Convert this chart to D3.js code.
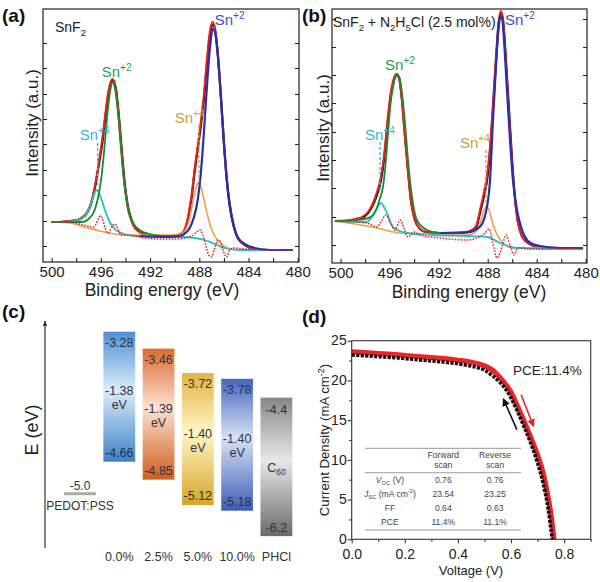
<!DOCTYPE html>
<html><head><meta charset="utf-8">
<script src="https://cdn.jsdelivr.net/npm/d3@7"></script>
<style>
html,body{margin:0;padding:0;background:#fff;}
svg{display:block;font-family:"Liberation Sans",Arial,Helvetica,sans-serif;}
</style></head><body>
<svg id="fig" width="600" height="582"></svg>
<script>
// ================= DATA =================
// XPS axes
const xpsLabelTicks = [500, 496, 492, 488, 484, 480];
const xpsMinorTicks = [498, 494, 490, 486, 482];
const aYTicks = [16, 41, 67, 92, 118, 143, 168, 194, 219];
const bYTicks = [18, 46, 75, 103, 131, 160, 188, 216, 244];

// Panel (a) SnF2 : [binding energy eV, intensity a.u.]
const aRaw = [[500.00,40],[499.35,40],[498.54,41],[497.89,42],[497.40,45],[497.07,50],[496.75,60],[496.50,73],[496.34,84],[496.10,102],[495.85,122],[495.61,147],[495.45,162],[495.28,174],[495.04,182],[494.80,175],[494.55,148],[494.31,113],[494.07,80],[493.82,57],[493.50,42],[493.17,34],[492.68,29],[492.03,27],[491.22,26],[490.41,26],[489.76,27],[489.27,30],[488.94,42],[488.62,65],[488.37,91],[488.13,113],[487.89,135],[487.64,161],[487.40,195],[487.15,225],[486.91,237],[486.75,234],[486.50,209],[486.26,169],[486.02,124],[485.77,84],[485.53,58],[485.20,36],[484.88,24],[484.31,17],[483.50,13],[482.28,12],[480.41,12]];
const aFit = [[500.00,40],[499.35,40],[498.54,41],[497.89,42],[497.40,46],[497.07,51],[496.75,61],[496.50,75],[496.34,86],[496.10,105],[495.85,126],[495.61,151],[495.45,166],[495.28,177],[495.06,183],[494.82,176],[494.57,150],[494.33,114],[494.09,80],[493.84,56],[493.52,41],[493.19,33],[492.68,29],[492.03,27],[491.22,26],[490.41,26],[489.76,27],[489.27,31],[488.94,44],[488.62,68],[488.37,94],[488.13,116],[487.89,139],[487.64,166],[487.40,200],[487.15,230],[486.93,240],[486.77,236],[486.52,210],[486.28,170],[486.04,124],[485.79,84],[485.55,58],[485.22,36],[484.88,24],[484.31,17],[483.50,13],[482.28,12],[480.41,12]];
const aSn2d32 = [[500.00,40],[498.54,40],[497.56,40],[496.91,44],[496.50,52],[496.18,67],[495.93,87],[495.69,117],[495.45,150],[495.20,174],[495.04,180],[494.88,175],[494.63,152],[494.39,117],[494.15,84],[493.90,62],[493.66,48],[493.33,38],[492.85,32],[492.03,28],[490.81,26],[489.59,26]];
const aSn4d32 = [[500.00,40],[498.94,40],[498.13,41],[497.48,44],[497.07,50],[496.75,60],[496.50,69],[496.34,72],[496.18,70],[495.93,62],[495.61,50],[495.28,40],[494.88,33],[494.31,29],[493.25,26],[491.22,25],[489.59,25],[488.37,24],[487.56,22],[486.75,18],[485.93,14],[484.72,12],[480.41,12]];
const aSn2d52 = [[492.85,26],[490.41,25],[489.59,26],[489.11,29],[488.78,34],[488.46,44],[488.13,62],[487.89,87],[487.64,127],[487.40,172],[487.15,212],[486.91,233],[486.75,231],[486.50,207],[486.26,167],[486.02,122],[485.77,82],[485.53,56],[485.20,36],[484.88,25],[484.31,18],[483.50,14],[482.28,12],[480.41,12]];
const aSn4d52 = [[500.00,40],[498.54,39],[497.32,35],[496.10,31],[494.88,28],[493.66,27],[492.03,27],[490.41,27],[489.59,28],[489.19,31],[488.94,37],[488.70,49],[488.46,64],[488.29,73],[488.13,79],[487.97,78],[487.80,72],[487.56,59],[487.32,46],[487.07,35],[486.75,26],[486.34,19],[485.69,14],[484.72,12],[480.41,12]];
const aResid = [[500.00,40],[498.54,40],[497.72,38],[497.07,36],[496.59,35],[496.02,46],[495.45,29],[494.88,38],[494.31,27],[493.66,27],[493.25,26],[492.44,24],[491.22,23],[490.00,23],[489.19,24],[488.62,26],[488.21,30],[487.97,32],[487.72,27],[487.48,17],[487.24,7],[486.99,5],[486.75,14],[486.50,22],[486.26,20],[486.02,10],[485.77,5],[485.53,12],[485.20,14],[484.31,13],[480.41,12]];

// Panel (b) SnF2 + N2H5Cl (2.5 mol%)
const bRaw = [[500.46,42],[499.64,42],[498.82,43],[498.25,45],[497.76,50],[497.36,58],[497.03,68],[496.70,83],[496.46,103],[496.13,143],[495.89,168],[495.72,179],[495.48,188],[495.23,185],[494.99,163],[494.75,128],[494.50,93],[494.26,63],[493.93,43],[493.52,34],[493.03,31],[491.89,30],[490.26,30],[489.44,31],[488.95,35],[488.63,50],[488.30,67],[488.05,83],[487.81,111],[487.57,153],[487.32,201],[487.08,239],[486.91,250],[486.75,243],[486.51,203],[486.26,153],[486.02,105],[485.77,65],[485.53,41],[485.20,27],[484.71,20],[483.73,16],[482.10,15],[480.23,15]];
const bFit = [[500.46,42],[499.64,42],[498.82,44],[498.25,46],[497.76,51],[497.36,60],[497.03,71],[496.70,87],[496.46,107],[496.13,148],[495.89,172],[495.72,182],[495.48,189],[495.25,186],[495.01,164],[494.77,128],[494.52,93],[494.28,63],[493.95,43],[493.52,34],[493.03,31],[491.89,30],[490.26,30],[489.44,32],[488.95,37],[488.63,53],[488.30,71],[488.05,88],[487.81,117],[487.57,160],[487.32,208],[487.08,244],[486.93,252],[486.77,245],[486.53,204],[486.28,153],[486.04,105],[485.79,65],[485.55,41],[485.22,27],[484.71,20],[483.73,16],[482.10,15],[480.23,15]];
const bSn2d32 = [[500.46,42],[498.99,43],[498.01,44],[497.44,47],[497.03,55],[496.78,65],[496.54,76],[496.30,103],[496.13,130],[495.89,163],[495.72,176],[495.40,189],[495.15,183],[494.99,170],[494.75,141],[494.50,103],[494.17,66],[493.77,43],[492.95,33],[491.89,30],[490.26,30]];
const bSn4d32 = [[500.46,42],[497.85,41],[497.52,45],[497.19,51],[496.95,57],[496.70,60],[496.46,56],[496.21,50],[495.97,42],[495.72,36],[494.58,30],[492.46,28],[489.69,27],[488.05,26],[486.99,20],[485.61,15],[480.23,14]];
const bSn2d52 = [[491.89,30],[489.61,31],[488.87,34],[488.46,39],[488.14,51],[487.81,83],[487.57,143],[487.32,198],[487.16,233],[486.99,247],[486.83,245],[486.67,223],[486.43,173],[486.18,123],[485.94,83],[485.61,53],[485.20,33],[484.79,23],[484.31,19],[483.73,17],[482.10,15],[480.23,15]];
const bSn4d52 = [[500.46,42],[497.03,35],[495.15,30],[489.69,28],[489.28,29],[488.87,33],[488.46,46],[488.30,53],[488.14,56],[487.97,55],[487.81,50],[487.65,42],[487.40,33],[486.75,20],[485.94,15],[480.23,15]];
const bResid = [[500.46,42],[497.85,40],[497.03,36],[496.62,43],[496.30,48],[495.97,41],[495.56,33],[495.15,43],[494.83,35],[494.50,26],[494.01,31],[493.52,28],[491.89,25],[489.69,23],[488.22,30],[487.89,34],[487.57,20],[487.24,5],[486.83,16],[486.51,28],[486.18,18],[485.86,8],[485.53,15],[484.31,14],[480.23,15]];

// Panel (c) energy levels (eV)
const levelCats = ['PEDOT:PSS', '0.0%', '2.5%', '5.0%', '10.0%', 'PHCl'];
const perovCats = ['0.0%', '2.5%', '5.0%', '10.0%'];
const cbm = [-3.28, -3.46, -3.72, -3.78];
const vbm = [-4.66, -4.85, -5.12, -5.18];
const gapLabels = ['-1.38', '-1.39', '-1.40', '-1.40'];
const c60Drawn = [-3.98, -5.45];
const c60Labels = ['-4.4', '-6.2'];
const pedotLevel = -5.0;

// Panel (d) J-V curves : [V, J mA cm-2]
const reverseScan = [[0.00,23.6],[0.05,23.5],[0.10,23.4],[0.15,23.3],[0.20,23.15],[0.25,23.0],[0.30,22.9],[0.35,22.75],[0.40,22.55],[0.45,22.3],[0.50,21.85],[0.53,21.3],[0.56,20.3],[0.58,19.5],[0.60,18.5],[0.62,17.1],[0.64,15.6],[0.66,14.0],[0.68,12.4],[0.70,10.6],[0.72,8.5],[0.74,5.3],[0.752,2.8],[0.762,0.0]];
const forwardScan = [[0.00,23.2],[0.05,23.1],[0.10,23.0],[0.15,22.9],[0.20,22.75],[0.25,22.6],[0.30,22.45],[0.35,22.3],[0.40,22.1],[0.45,21.8],[0.50,21.3],[0.53,20.6],[0.56,19.7],[0.58,18.9],[0.60,17.8],[0.62,16.4],[0.64,14.9],[0.66,13.3],[0.68,11.6],[0.70,9.6],[0.72,7.2],[0.74,3.8],[0.755,0.0]];
const jvXTicks = [0, 0.2, 0.4, 0.6, 0.8];
const jvXMinor = [0.1, 0.3, 0.5, 0.7, 0.9];
const jvYTicks = [0, 5, 10, 15, 20, 25];
const jvYMinor = [2.5, 7.5, 12.5, 17.5, 22.5];
const tableForward = ['0.76', '23.54', '0.64', '11.4%'];
const tableReverse = ['0.76', '23.25', '0.63', '11.1%'];

// ================= DRAWING =================
const svg = d3.select('#fig');
const FONT = '"Liberation Sans", Arial, Helvetica, sans-serif';
const C = {green:'#1e8a2e', greenT:'#22a04c', blue:'#2a2fae', blueT:'#3e50c4', cyan:'#22c2c8', cyanT:'#36b2de',
  orange:'#f0a04c', orangeT:'#c9a038', red:'#e4231f', black:'#111'};
const defs = svg.append('defs');

function rich(t, parts, size) {
  let shift = 0;
  parts.forEach(p => {
    const ts = t.append('tspan').text(p.t);
    const target = p.sup ? -size * 0.4 : p.sub ? size * 0.28 : 0;
    ts.attr('dy', target - shift); shift = target;
    if (p.sup || p.sub) ts.attr('font-size', size * 0.68);
    if (p.it) ts.attr('font-style', 'italic');
  });
  return t;
}
function txt(x, y, size, opts = {}) {
  return svg.append('text').attr('x', x).attr('y', y).attr('font-size', size)
    .attr('font-family', FONT).attr('fill', opts.fill || '#222')
    .attr('text-anchor', opts.anchor || 'start').attr('font-weight', opts.bold ? 'bold' : null);
}
function styleAxis(a, fs, col) {
  a.select('.domain').remove();
  a.selectAll('line').attr('stroke', col).attr('stroke-width', 1.1);
  a.selectAll('text').attr('font-size', fs).attr('font-family', FONT).attr('fill', '#222');
}
function noText(a) { a.selectAll('text').remove(); }

function drawXPS(o) {
  const x = d3.scaleLinear().domain([500.7, 479.9]).range([o.left, o.right]);
  const y = d3.scaleLinear().domain([0, o.ymax]).range([o.bottom, o.top]);
  const g = svg.append('g');
  const line = d3.line().x(d => x(d[0])).y(d => y(d[1])).curve(d3.curveMonotoneX);
  const curves = [
    [o.raw, C.black, 2.2, null],
    [o.fit, C.red, 2.0, null],
    [o.sn4d52, C.orange, 1.6, null],
    [o.sn4d32, C.cyan, 1.8, null],
    [o.sn2d32, C.green, 1.8, null],
    [o.sn2d52, C.blue, 2.2, null],
    [o.resid, C.red, 1.5, '1.6,1.4']
  ];
  curves.forEach(([d, col, w, dash]) => {
    g.append('path').attr('d', line(d)).attr('fill', 'none').attr('stroke', col)
      .attr('stroke-width', w).attr('stroke-dasharray', dash).attr('stroke-linejoin', 'round');
  });
  g.append('rect').attr('x', o.left).attr('y', o.top).attr('width', o.right - o.left)
    .attr('height', o.bottom - o.top).attr('fill', 'none').attr('stroke', '#222').attr('stroke-width', 1.2);
  const ax = g.append('g').attr('transform', `translate(0,${o.bottom})`)
    .call(d3.axisBottom(x).tickValues(xpsLabelTicks).tickSize(-4).tickPadding(4).tickFormat(d3.format('d')));
  const axm = g.append('g').attr('transform', `translate(0,${o.bottom})`)
    .call(d3.axisBottom(x).tickValues(xpsMinorTicks).tickSize(-4));
  const ayl = g.append('g').attr('transform', `translate(${o.left},0)`)
    .call(d3.axisLeft(y).tickValues(o.yTicks).tickSize(-4));
  const ayr = g.append('g').attr('transform', `translate(${o.right},0)`)
    .call(d3.axisRight(y).tickValues(o.yTicks).tickSize(-4));
  [ax, axm, ayl, ayr].forEach(a => styleAxis(a, 15, '#222'));
  [axm, ayl, ayr].forEach(noText);
  o.leaders.forEach(l => {
    g.append('line').attr('x1', x(l.e)).attr('x2', x(l.e)).attr('y1', y(l.i0)).attr('y2', y(l.i1))
      .attr('stroke', l.col).attr('stroke-width', 1.3).attr('stroke-dasharray', '3,2');
  });
  o.labels.forEach(l => {
    rich(txt(x(l.e), y(l.i), 15, {fill: l.col}), [{t: 'Sn'}, {t: l.ox, sup: true}], 15);
  });
  rich(txt(o.nameX, o.nameY, 14, {fill: '#222'}), o.name, 14);
  txt(o.xtX, o.xtY, 17.5, {anchor: 'middle'}).text('Binding energy (eV)');
  svg.append('text').attr('transform', `translate(${o.ytX},${o.ytY}) rotate(-90)`)
    .attr('text-anchor', 'middle').attr('font-size', 17).attr('font-family', FONT).attr('fill', '#222')
    .text('Intensity (a.u.)');
}

drawXPS({left: 43, right: 299, top: 9, bottom: 262, ymax: 253, yTicks: aYTicks,
  raw: aRaw, fit: aFit, sn2d32: aSn2d32, sn4d32: aSn4d32, sn2d52: aSn2d52, sn4d52: aSn4d52, resid: aResid,
  leaders: [{e: 496.26, i0: 119, i1: 77, col: C.cyanT}, {e: 488.03, i0: 137, i1: 80, col: C.orangeT}],
  labels: [{e: 495.93, i: 185, ox: '+2', col: C.greenT}, {e: 486.75, i: 237, ox: '+2', col: C.blueT},
           {e: 497.72, i: 122, ox: '+4', col: C.cyanT}, {e: 490.0, i: 139, ox: '+4', col: C.orangeT}],
  name: [{t: 'SnF'}, {t: '2', sub: true}], nameX: 55, nameY: 32,
  xtX: 162, xtY: 296, ytX: 38, ytY: 123});

drawXPS({left: 332, right: 587, top: 9, bottom: 263, ymax: 254, yTicks: bYTicks,
  raw: bRaw, fit: bFit, sn2d32: bSn2d32, sn4d32: bSn4d32, sn2d52: bSn2d52, sn4d52: bSn4d52, resid: bResid,
  leaders: [{e: 496.78, i0: 121, i1: 71, col: C.cyanT}, {e: 488.14, i0: 113, i1: 60, col: C.orangeT}],
  labels: [{e: 496.38, i: 193, ox: '+2', col: C.greenT}, {e: 486.59, i: 238, ox: '+2', col: C.blueT},
           {e: 498.01, i: 123, ox: '+4', col: C.cyanT}, {e: 490.26, i: 115, ox: '+4', col: C.orangeT}],
  name: [{t: 'SnF'}, {t: '2', sub: true}, {t: ' + N'}, {t: '2', sub: true}, {t: 'H'}, {t: '5', sub: true}, {t: 'Cl (2.5 mol%)'}],
  nameX: 333, nameY: 27,
  xtX: 469, xtY: 297.5, ytX: 329, ytY: 128});

// panel letters
txt(2, 22, 19, {bold: true, fill: '#111'}).text('(a)');
txt(302, 22, 19, {bold: true, fill: '#111'}).text('(b)');
txt(2, 318, 19, {bold: true, fill: '#111'}).text('(c)');
txt(302, 323, 19, {bold: true, fill: '#111'}).text('(d)');

// ================= Panel (c) =================
(function () {
  const yE = d3.scaleLinear().domain([-3.28, -5.18]).range([331.7, 510.7]);
  const xb = d3.scaleBand().domain(levelCats).range([64.1, 292.3]).paddingInner(0.19).paddingOuter(0);
  const bw = xb.bandwidth();
  defs.append('marker').attr('id', 'arrC').attr('viewBox', '0 0 10 10').attr('refX', 9).attr('refY', 5)
    .attr('markerWidth', 5).attr('markerHeight', 6).attr('orient', 'auto')
    .append('path').attr('d', 'M0,1 L10,5 L0,9 z').attr('fill', '#333');
  svg.append('line').attr('x1', 45).attr('x2', 45).attr('y1', 548).attr('y2', 321)
    .attr('stroke', '#333').attr('stroke-width', 1.2).attr('marker-end', 'url(#arrC)');
  svg.append('text').attr('transform', 'translate(38,430) rotate(-90)').attr('text-anchor', 'middle')
    .attr('font-size', 18).attr('font-family', FONT).attr('fill', '#222').text('E  (eV)');

  const grad = [['#4e90d6', '#dcecf9', '#3c80ca'], ['#dc6a30', '#fbe1d1', '#cf5f1e'],
                ['#e2b43e', '#fff6c6', '#d8a52a'], ['#4566bd', '#d8e2f4', '#3c5cb5'], ['#878787', '#e8e8e8', '#6a6a6a']];
  grad.forEach((c, i) => {
    const lg = defs.append('linearGradient').attr('id', 'g' + i).attr('x1', 0).attr('y1', 0).attr('x2', 0).attr('y2', 1);
    lg.append('stop').attr('offset', '0%').attr('stop-color', c[0]);
    lg.append('stop').attr('offset', '45%').attr('stop-color', c[1]);
    lg.append('stop').attr('offset', '100%').attr('stop-color', c[2]);
  });
  const labCol = '#2a3344';
  perovCats.forEach((cat, i) => {
    const x0 = xb(cat), top = yE(cbm[i]), bot = yE(vbm[i]), mid = (top + bot) / 2, cx = x0 + bw / 2;
    svg.append('rect').attr('x', x0).attr('y', top).attr('width', bw).attr('height', bot - top).attr('fill', `url(#g${i})`);
    txt(cx, top + 15, 12.5, {anchor: 'middle', fill: labCol}).text(cbm[i].toFixed(2));
    txt(cx, bot - 5, 12.5, {anchor: 'middle', fill: labCol}).text(vbm[i].toFixed(2));
    txt(cx, mid - 1.5, 12.5, {anchor: 'middle', fill: labCol}).text(gapLabels[i]);
    txt(cx, mid + 12.5, 12.5, {anchor: 'middle', fill: labCol}).text('eV');
  });
  {
    const x0 = xb('PHCl'), top = yE(c60Drawn[0]), bot = yE(c60Drawn[1]), cx = x0 + bw / 2;
    svg.append('rect').attr('x', x0).attr('y', top).attr('width', bw).attr('height', bot - top).attr('fill', 'url(#g4)');
    txt(cx, top + 16, 12.5, {anchor: 'middle', fill: labCol}).text(c60Labels[0]);
    txt(cx, bot - 4, 12.5, {anchor: 'middle', fill: labCol}).text(c60Labels[1]);
    rich(txt(cx, (top + bot) / 2 + 5, 12.5, {anchor: 'middle', fill: labCol}), [{t: 'C'}, {t: '60', sub: true}], 12.5);
  }
  {
    const x0 = xb('PEDOT:PSS'), yy = yE(pedotLevel), cx = x0 + bw / 2;
    svg.append('line').attr('x1', x0).attr('x2', x0 + bw).attr('y1', yy).attr('y2', yy)
      .attr('stroke', '#a8a8a8').attr('stroke-width', 3);
    txt(cx, yy - 4, 12, {anchor: 'middle', fill: '#333'}).text(pedotLevel.toFixed(1));
    txt(cx, yy + 16, 12, {anchor: 'middle', fill: '#333'}).text('PEDOT:PSS');
  }
  levelCats.slice(1).forEach(cat => {
    txt(xb(cat) + bw / 2, 561, 12.5, {anchor: 'middle', fill: '#333'}).text(cat);
  });
})();

// ================= Panel (d) =================
(function () {
  const x = d3.scaleLinear().domain([0, 0.9]).range([351.7, 590.7]);
  const y = d3.scaleLinear().domain([0, 25]).range([539.3, 340.7]);
  const g = svg.append('g');
  const line = d3.line().x(d => x(d[0])).y(d => y(d[1])).curve(d3.curveMonotoneX);
  g.append('path').attr('d', line(reverseScan)).attr('fill', 'none').attr('stroke', '#e8262a').attr('stroke-width', 5);
  g.append('path').attr('d', line(forwardScan)).attr('fill', 'none').attr('stroke', '#111').attr('stroke-width', 3.6)
    .attr('stroke-dasharray', '3.2,1.3');
  g.append('rect').attr('x', x(0)).attr('y', y(25)).attr('width', x(0.9) - x(0)).attr('height', y(0) - y(25))
    .attr('fill', 'none').attr('stroke', '#333').attr('stroke-width', 1.1);
  const axb = g.append('g').attr('transform', `translate(0,${y(0)})`)
    .call(d3.axisBottom(x).tickValues(jvXTicks).tickSize(4).tickPadding(6).tickFormat(d3.format('.1f')));
  const axbm = g.append('g').attr('transform', `translate(0,${y(0)})`)
    .call(d3.axisBottom(x).tickValues(jvXMinor).tickSize(2.5));
  const axl = g.append('g').attr('transform', `translate(${x(0)},0)`)
    .call(d3.axisLeft(y).tickValues(jvYTicks).tickSize(4).tickPadding(1).tickFormat(d3.format('d')));
  const axlm = g.append('g').attr('transform', `translate(${x(0)},0)`)
    .call(d3.axisLeft(y).tickValues(jvYMinor).tickSize(2.5));
  [axb, axbm, axl, axlm].forEach(a => styleAxis(a, 14, '#333'));
  axl.selectAll('text').attr('dy', '0.3em');
  [axbm, axlm].forEach(noText);
  txt(471, 574.5, 13, {anchor: 'middle'}).text('Voltage (V)');
  rich(svg.append('text').attr('transform', 'translate(329,440) rotate(-90)').attr('text-anchor', 'middle')
    .attr('font-size', 13.2).attr('font-family', FONT).attr('fill', '#222'),
    [{t: 'Current Density (mA cm'}, {t: '-2', sup: true}, {t: ')'}], 13.2);
  txt(513, 375, 13.5).text('PCE:11.4%');

  [['#111', [0.622, 13.8], [0.572, 17.6], 'arrK'], ['#e8262a', [0.638, 18.2], [0.684, 14.3], 'arrR']].forEach(([col, a, b, id]) => {
    defs.append('marker').attr('id', id).attr('viewBox', '0 0 10 10').attr('refX', 8).attr('refY', 5)
      .attr('markerWidth', 5).attr('markerHeight', 5).attr('orient', 'auto').attr('markerUnits', 'strokeWidth')
      .append('path').attr('d', 'M0,0 L10,5 L0,10 z').attr('fill', col);
    g.append('line').attr('x1', x(a[0])).attr('y1', y(a[1])).attr('x2', x(b[0])).attr('y2', y(b[1]))
      .attr('stroke', col).attr('stroke-width', 1.6).attr('marker-end', `url(#${id})`);
  });

  const tx0 = x(0.05), tx1 = x(0.638);
  [11.45, 8.38, 1.17].forEach(j => {
    g.append('line').attr('x1', tx0).attr('x2', tx1).attr('y1', y(j)).attr('y2', y(j))
      .attr('stroke', '#9a9a9a').attr('stroke-width', 1);
  });
  const colX = [x(0.144), x(0.345), x(0.540)];
  const top = y(11.45);
  const tc = '#444', fs = 8.6;
  txt(colX[1], top + 10, fs, {anchor: 'middle', fill: tc}).text('Forward');
  txt(colX[1], top + 20, fs, {anchor: 'middle', fill: tc}).text('scan');
  txt(colX[2], top + 10, fs, {anchor: 'middle', fill: tc}).text('Reverse');
  txt(colX[2], top + 20, fs, {anchor: 'middle', fill: tc}).text('scan');
  const rowLabels = [
    [{t: 'V', it: true}, {t: 'OC', sub: true}, {t: ' (V)'}],
    [{t: 'J', it: true}, {t: 'SC', sub: true}, {t: ' (mA cm'}, {t: '-2', sup: true}, {t: ')'}],
    [{t: 'FF'}], [{t: 'PCE'}]
  ];
  rowLabels.forEach((parts, i) => {
    const yy = top + 34.4 + i * 14.1;
    rich(txt(colX[0], yy, fs, {anchor: 'middle', fill: tc}), parts, fs);
    txt(colX[1], yy, fs, {anchor: 'middle', fill: tc}).text(tableForward[i]);
    txt(colX[2], yy, fs, {anchor: 'middle', fill: tc}).text(tableReverse[i]);
  });
})();
</script>
</body></html>
